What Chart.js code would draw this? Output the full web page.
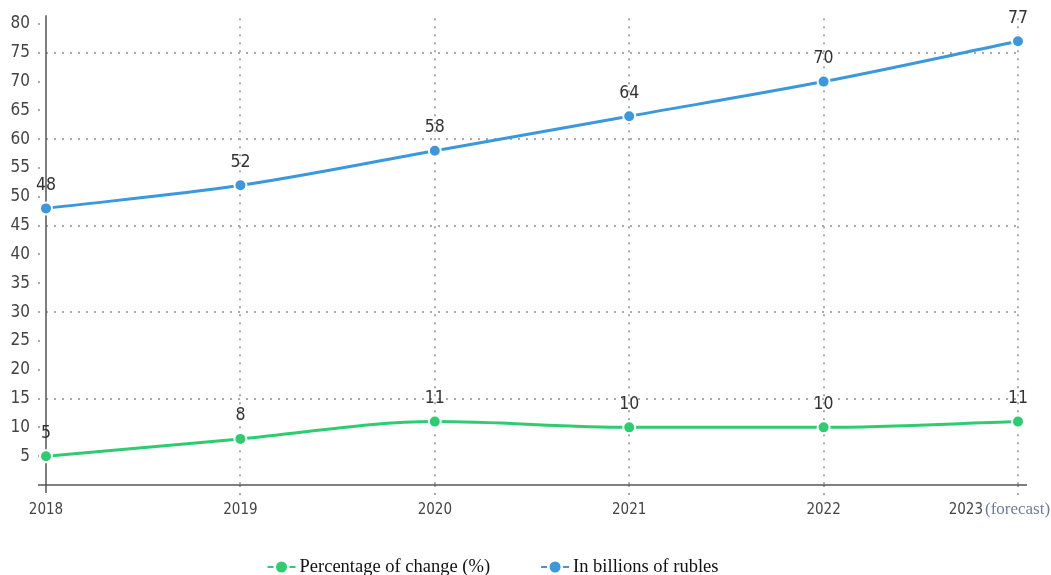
<!DOCTYPE html>
<html>
<head>
<meta charset="utf-8">
<script src="https://cdn.jsdelivr.net/npm/chart.js@4.4.1/dist/chart.umd.min.js"></script>
<style>
  html, body { margin: 0; padding: 0; background: #fff; }
  #wrap { position: relative; width: 1051px; height: 575px; }
</style>
</head>
<body>
<div id="wrap"><canvas id="c" width="1051" height="575"></canvas></div>
<script>
const years = [2018, 2019, 2020, 2021, 2022, 2023];
const pctChange = [5, 8, 11, 10, 10, 11];
const billionsRub = [48, 52, 58, 64, 70, 77];
const yTickValues = [5, 10, 15, 20, 25, 30, 35, 40, 45, 50, 55, 60, 65, 70, 75, 80];
const gridLineValues = [15, 30, 45, 60, 75];
const seriesNames = ['Percentage of change (%)', 'In billions of rubles'];
const forecastNote = '(forecast)';

const GREEN = '#2ecc71';
const BLUE = '#3b98dc';
const TICK_FONT = '"DejaVu Sans Condensed", "Liberation Sans Narrow", "DejaVu Sans", sans-serif';
const SERIF = '"Liberation Serif", "DejaVu Serif", serif';

const extrasPlugin = {
  id: 'extras',
  beforeDatasetsDraw(chart) {
    const ctx = chart.ctx, a = chart.chartArea;
    const x = chart.scales.x, y = chart.scales.y;
    ctx.save();
    ctx.strokeStyle = '#555';
    ctx.lineWidth = 1.5;
    const x0 = x.getPixelForValue(years[0]);
    ctx.beginPath();
    ctx.moveTo(x0, a.top - 3);
    ctx.lineTo(x0, a.bottom + 8);
    ctx.stroke();
    const y0 = y.getPixelForValue(0);
    ctx.beginPath();
    ctx.moveTo(a.left - 8, y0);
    ctx.lineTo(a.right + 9, y0);
    ctx.stroke();
    ctx.restore();
  },
  afterDatasetsDraw(chart) {
    const ctx = chart.ctx;
    ctx.save();
    ctx.font = '17.5px ' + TICK_FONT;
    ctx.fillStyle = '#333';
    ctx.textAlign = 'center';
    ctx.textBaseline = 'middle';
    chart.data.datasets.forEach((ds, i) => {
      const meta = chart.getDatasetMeta(i);
      meta.data.forEach((pt, j) => {
        ctx.fillText(String(ds.data[j].y), pt.x, pt.y - 23);
      });
    });
    ctx.restore();
  },
  afterDraw(chart) {
    const ctx = chart.ctx;
    const x = chart.scales.x;
    const last = years[years.length - 1];
    const px = x.getPixelForValue(last);
    const ly = x.top + 25;
    ctx.save();
    ctx.textBaseline = 'middle';
    ctx.font = '15px ' + TICK_FONT;
    ctx.fillStyle = '#444';
    ctx.textAlign = 'right';
    ctx.fillText(String(last), px - 35, ly);
    ctx.font = '17px ' + SERIF;
    ctx.fillStyle = '#6d7d9c';
    ctx.textAlign = 'left';
    ctx.fillText(forecastNote, px - 33, ly);

    ctx.font = '18.5px ' + SERIF;
    const markerW = 29, markerGap = 3, itemGap = 51;
    const items = chart.data.datasets.map(ds => ({
      label: ds.label, color: ds.borderColor,
      w: markerW + markerGap + ctx.measureText(ds.label).width
    }));
    const total = items.reduce((s, it) => s + it.w, 0) + itemGap * (items.length - 1);
    let cx = 493 - total / 2;
    const cy = 567;
    items.forEach(it => {
      ctx.strokeStyle = it.color;
      ctx.fillStyle = it.color;
      ctx.lineWidth = 2;
      ctx.beginPath();
      ctx.moveTo(cx, cy); ctx.lineTo(cx + 6, cy);
      ctx.moveTo(cx + 22, cy); ctx.lineTo(cx + 28, cy);
      ctx.stroke();
      ctx.beginPath();
      ctx.arc(cx + 14, cy, 5.5, 0, Math.PI * 2);
      ctx.fill();
      ctx.fillStyle = '#111';
      ctx.textAlign = 'left';
      ctx.fillText(it.label, cx + markerW + markerGap, cy);
      cx += it.w + itemGap;
    });
    ctx.restore();
  }
};

const mkData = arr => years.map((yr, i) => ({ x: yr, y: arr[i] }));

new Chart(document.getElementById('c'), {
  type: 'line',
  data: {
    datasets: [
      {
        label: seriesNames[0],
        data: mkData(pctChange),
        borderColor: GREEN, backgroundColor: GREEN,
        pointBackgroundColor: GREEN, pointBorderColor: '#fff',
        borderWidth: 3, pointRadius: 6, pointBorderWidth: 2,
        cubicInterpolationMode: 'monotone', clip: false
      },
      {
        label: seriesNames[1],
        data: mkData(billionsRub),
        borderColor: BLUE, backgroundColor: BLUE,
        pointBackgroundColor: BLUE, pointBorderColor: '#fff',
        borderWidth: 3, pointRadius: 6, pointBorderWidth: 2,
        cubicInterpolationMode: 'monotone', clip: false
      }
    ]
  },
  options: {
    responsive: false,
    animation: false,
    layout: { padding: { top: 18, right: 33, left: 0, bottom: 0 } },
    plugins: { legend: { display: false }, tooltip: { enabled: false } },
    scales: {
      x: {
        type: 'linear',
        min: years[0], max: years[years.length - 1],
        afterBuildTicks: s => { s.ticks = years.map(v => ({ value: v })); },
        afterFit: s => { s.height = 90; },
        border: { display: false, dash: [2, 6] },
        grid: {
          color: c => c.index === 0 ? 'rgba(0,0,0,0)' : '#aaa',
          lineWidth: 2,
          tickLength: 10,
          tickColor: c => c.index === 0 ? 'rgba(0,0,0,0)' : '#aaa',
          tickBorderDash: [2, 6]
        },
        ticks: {
          padding: 6,
          color: '#444',
          font: { family: TICK_FONT, size: 15 },
          callback: v => v === years[years.length - 1] ? '' : String(v)
        }
      },
      y: {
        min: 0, max: 81,
        afterBuildTicks: s => { s.ticks = yTickValues.map(v => ({ value: v })); },
        afterFit: s => { s.width = 46; },
        border: { display: false, dash: [2, 6] },
        grid: {
          color: c => gridLineValues.includes(c.tick && c.tick.value) ? '#aaa' : 'rgba(0,0,0,0)',
          lineWidth: 2,
          tickLength: 8,
          tickColor: '#aaa',
          tickBorderDash: [2, 6]
        },
        ticks: {
          padding: 8,
          color: '#444',
          font: { family: TICK_FONT, size: 17 }
        }
      }
    }
  },
  plugins: [extrasPlugin]
});
</script>
</body>
</html>
